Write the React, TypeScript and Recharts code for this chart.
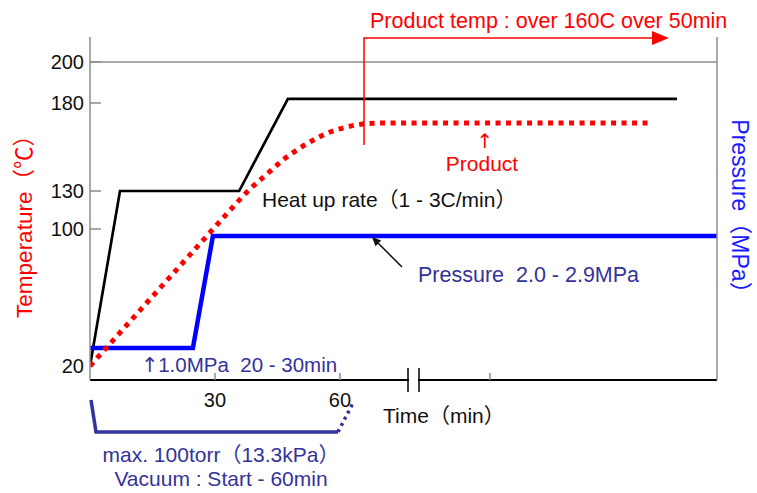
import React from 'react';
import { LineChart, Line, XAxis, YAxis, ReferenceLine } from 'recharts';

// ---------- data (time in minutes) ----------
const heaterTime = [0, 7.2, 35.8, 47.5, 140.9];
const heaterTemp = [20, 130, 130, 182, 182];

const productTime = [0, 14.4, 30, 34.1, 38.4, 42.5, 46.3, 50.4, 54.5, 57.6, 61.7, 65.5, 69.6, 134.9];
const productTemp = [20, 59, 101.6, 116.6, 131.1, 139.7, 147.6, 154.4, 160.1, 163.5, 166.4, 168.1, 168.6, 168.6];

const pressureTime = [0, 24.7, 29.5, 150.5];
const pressureValue = [1.0, 1.0, 2.9, 2.9];

const tempTicks = [20, 100, 130, 180, 200];
const timeTicks = [30, 60, 96];
const timeTickLabels = ['30', '60', ''];

// schematic (non-uniform) temperature axis: value breakpoints and their share of the axis height
const TEMP_BREAKS = [12, 20, 100, 130, 180, 200, 212];
const TEMP_FRACS = [0, 0.0408, 0.4402, 0.551, 0.8076, 0.9271, 1];

function piecewiseScale(breaks: number[], fracs: number[], dom?: any[], rng?: number[]): any {
  let domain: any[] = dom ?? [breaks[0], breaks[breaks.length - 1]];
  let range: number[] = rng ?? [0, 1];
  const fracOf = (v: number) => {
    const n = breaks.length;
    let i = 0;
    while (i < n - 2 && v > breaks[i + 1]) i++;
    const t = (v - breaks[i]) / (breaks[i + 1] - breaks[i]);
    return fracs[i] + t * (fracs[i + 1] - fracs[i]);
  };
  const scale: any = (v: any) => range[0] + fracOf(Number(v)) * (range[1] - range[0]);
  scale.domain = (d?: any[]) => {
    if (d === undefined) return domain.slice();
    domain = d.slice();
    return scale;
  };
  scale.range = (r?: number[]) => {
    if (r === undefined) return range.slice();
    range = r.slice();
    return scale;
  };
  scale.copy = () => piecewiseScale(breaks, fracs, domain.slice(), range.slice());
  scale.ticks = () => tempTicks.slice();
  scale.tickFormat = () => (v: any) => String(v);
  scale.invert = (px: number) => {
    const f = (px - range[0]) / (range[1] - range[0]);
    let i = 0;
    while (i < fracs.length - 2 && f > fracs[i + 1]) i++;
    const t = (f - fracs[i]) / (fracs[i + 1] - fracs[i]);
    return breaks[i] + t * (breaks[i + 1] - breaks[i]);
  };
  scale.nice = () => scale;
  scale.clamp = (c?: boolean) => (c === undefined ? false : scale);
  return scale;
}

const tempScale = piecewiseScale(TEMP_BREAKS, TEMP_FRACS);

const heaterData = heaterTime.map((t, i) => ({ t, temp: heaterTemp[i] }));
const productData = productTime.map((t, i) => ({ t, temp: productTemp[i] }));
const pressureData = pressureTime.map((t, i) => ({ t, mpa: pressureValue[i] }));

const FONT = "'Liberation Sans', Arial, 'Noto Sans CJK JP', sans-serif";
const ARROW_FONT = "'DejaVu Sans', sans-serif";
const NAVY = '#333399';
const RED = '#ff0000';
const GRAY = '#8c8c8c';

const TempTick = (props: any) => {
  const { x, y, payload } = props;
  const v = payload.value;
  return (
    <g>
      {v !== 20 && <line x1={x} y1={y} x2={x + 11} y2={y} stroke={GRAY} strokeWidth={1.5} />}
      <text x={x - 6} y={y + 7} textAnchor="end" fontSize={20} fill="#111" fontFamily={FONT}>
        {String(v)}
      </text>
    </g>
  );
};

const TimeTick = (props: any) => {
  const { x, y, payload } = props;
  const idx = timeTicks.indexOf(payload.value);
  const label = idx >= 0 ? timeTickLabels[idx] : '';
  return (
    <g>
      <line x1={x} y1={y} x2={x} y2={y - 7} stroke={GRAY} strokeWidth={1.5} />
      {label ? (
        <text x={x} y={y + 27} textAnchor="middle" fontSize={20} fill="#111" fontFamily={FONT}>
          {label}
        </text>
      ) : null}
    </g>
  );
};

export default function App() {
  return (
    <div style={{ position: 'absolute', left: 0, top: 0, width: 757, height: 493, background: '#fff', fontFamily: FONT }}>
      <LineChart width={757} height={493} margin={{ top: 37, right: 39, bottom: 112, left: 89 }}>
        <XAxis
          dataKey="t"
          type="number"
          domain={[0, 150.5]}
          allowDataOverflow
          ticks={timeTicks}
          tick={<TimeTick />}
          tickLine={false}
          tickSize={0}
          tickMargin={0}
          height={1}
          axisLine={{ stroke: '#000', strokeWidth: 2 }}
          interval={0}
        />
        <YAxis
          yAxisId="temp"
          type="number"
          domain={[12, 212]}
          allowDataOverflow
          scale={tempScale}
          ticks={tempTicks}
          tick={<TempTick />}
          tickLine={false}
          tickSize={0}
          tickMargin={0}
          width={1}
          interval={0}
          axisLine={{ stroke: GRAY, strokeWidth: 1.5 }}
        />
        <YAxis
          yAxisId="p"
          orientation="right"
          type="number"
          domain={[0.457, 6.276]}
          allowDataOverflow
          tick={false}
          tickLine={false}
          width={1}
          axisLine={{ stroke: GRAY, strokeWidth: 1.5 }}
        />
        <ReferenceLine yAxisId="temp" y={200} stroke={GRAY} strokeWidth={1.5} />
        <Line
          data={heaterData}
          dataKey="temp"
          yAxisId="temp"
          type="linear"
          stroke="#000"
          strokeWidth={2.7}
          dot={false}
          activeDot={false}
          isAnimationActive={false}
        />
        <Line
          data={pressureData}
          dataKey="mpa"
          yAxisId="p"
          type="linear"
          stroke="#0000ff"
          strokeWidth={4.5}
          dot={false}
          activeDot={false}
          isAnimationActive={false}
        />
        <Line
          data={productData}
          dataKey="temp"
          yAxisId="temp"
          type="monotone"
          stroke={RED}
          strokeWidth={5}
          strokeDasharray="5 5.5"
          dot={false}
          activeDot={false}
          isAnimationActive={false}
        />
      </LineChart>

      <svg
        width={757}
        height={493}
        style={{ position: 'absolute', left: 0, top: 0, pointerEvents: 'none' }}
        fontFamily={FONT}
      >
        {/* axis break */}
        <rect x={409} y={377} width={9} height={6} fill="#fff" />
        <line x1={408} y1={368} x2={408} y2={392} stroke="#000" strokeWidth={1.5} />
        <line x1={419} y1={368} x2={419} y2={392} stroke="#000" strokeWidth={1.5} />

        {/* product temp arrow */}
        <polyline points="364,145 364,38 654,38" fill="none" stroke={RED} strokeWidth={1.5} />
        <polygon points="652,31 669,38 652,45" fill={RED} />
        <text x={370} y={28} fontSize={21.5} fill={RED} style={{ whiteSpace: 'pre' }}>
          Product temp : over 160C over 50min
        </text>

        <text x={485} y={148} fontSize={20} fill={RED} textAnchor="middle" fontFamily={ARROW_FONT}>↑</text>
        <text x={482} y={171} fontSize={21} fill={RED} textAnchor="middle">Product</text>

        <text x={262} y={207} fontSize={21} fill="#111" style={{ whiteSpace: 'pre' }}>
          Heat up rate（1 - 3C/min）
        </text>

        {/* pressure pointer */}
        <line x1={402} y1={267} x2={378} y2={243} stroke="#111" strokeWidth={1.5} />
        <polygon points="372,237 381.2,240.5 375.5,246.2" fill="#111" />
        <text x={418} y={282} fontSize={21.5} fill={NAVY} style={{ whiteSpace: 'pre' }}>
          Pressure  2.0 - 2.9MPa
        </text>

        <text x={141} y={372} fontSize={20.5} fill={NAVY} style={{ whiteSpace: 'pre' }}>
          <tspan fontFamily={ARROW_FONT}>↑</tspan>1.0MPa  20 - 30min
        </text>

        <text x={383} y={423} fontSize={21} fill="#111">Time（min）</text>

        {/* vacuum bracket */}
        <polyline points="91,400 96,432 338,432" fill="none" stroke={NAVY} strokeWidth={3.5} />
        <line x1={338} y1={432} x2={353} y2={403} stroke={NAVY} strokeWidth={3.5} strokeDasharray="3 4" />
        <text x={221} y={462} fontSize={21} fill={NAVY} textAnchor="middle">max. 100torr（13.3kPa）</text>
        <text x={221} y={486} fontSize={21} fill={NAVY} textAnchor="middle">Vacuum : Start - 60min</text>

        {/* axis titles */}
        <text x={24} y={221} fontSize={22.5} fill={RED} textAnchor="middle" dominantBaseline="central" transform="rotate(-90 24 221)">
          Temperature（℃）
        </text>
        <text x={740} y={212} fontSize={23} fill="#1a1aff" textAnchor="middle" dominantBaseline="central" transform="rotate(90 740 212)">
          Pressure（MPa）
        </text>
      </svg>
    </div>
  );
}
